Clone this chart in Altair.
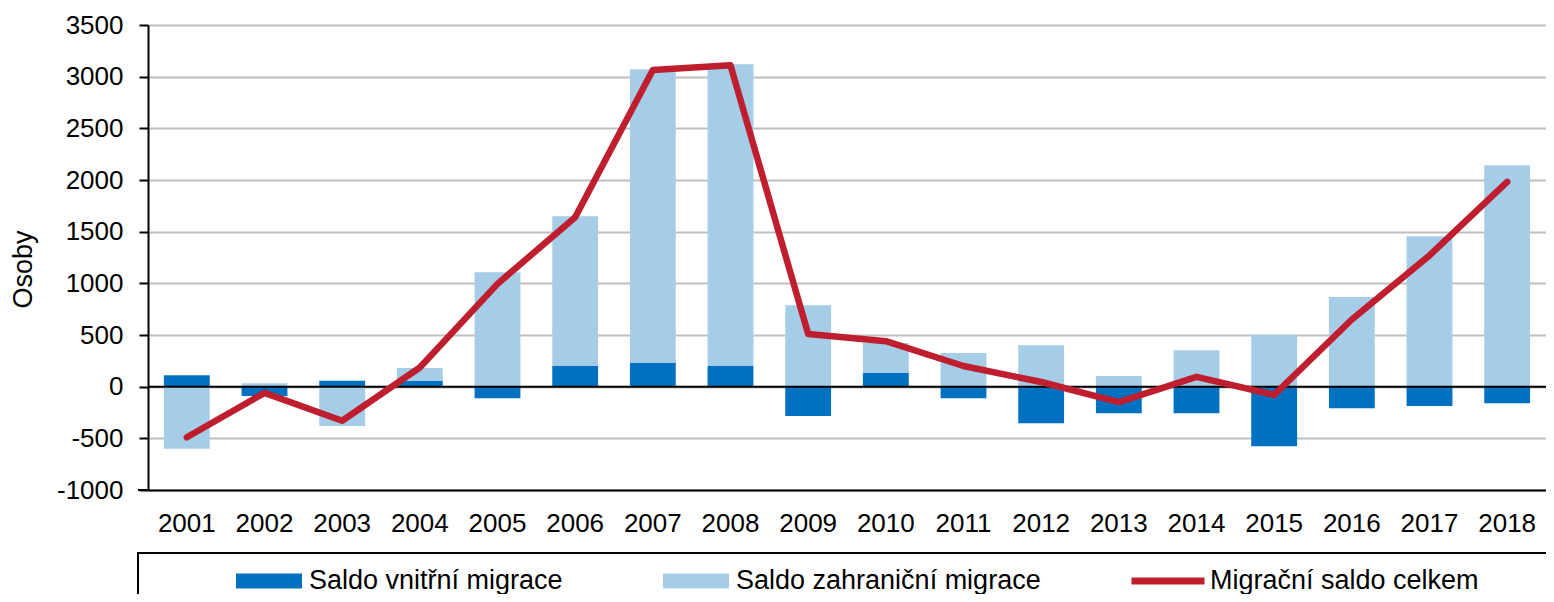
import altair as alt
import pandas as pd

years = ["2001", "2002", "2003", "2004", "2005", "2006", "2007", "2008", "2009",
         "2010", "2011", "2012", "2013", "2014", "2015", "2016", "2017", "2018"]
internal = [110, -90, 58, 55, -112, 200, 229, 200, -283, 132, -112, -355, -257, -257, -577, -209, -187, -161]
foreign = [-600, 33, -380, 126, 1107, 1449, 2843, 2920, 787, 290, 325, 400, 103, 352, 500, 867, 1455, 2143]
total = [-490, -60, -330, 185, 995, 1640, 3065, 3110, 510, 440, 200, 45, -150, 95, -80, 650, 1270, 1982]
y_ticks = [-1000, -500, 0, 500, 1000, 1500, 2000, 2500, 3000, 3500]
bar_names = ["Saldo vnitřní migrace", "Saldo zahraniční migrace"]
bar_colors = ["#0070C0", "#A6CDE8"]
line_name = ["Migrační saldo celkem"]
line_color = ["#BE1E2D"]

rows = []
for i, yr in enumerate(years):
    rows.append({"year": yr, "series": bar_names[0], "value": internal[i], "ord": 0})
    rows.append({"year": yr, "series": bar_names[1], "value": foreign[i], "ord": 1})
bar_df = pd.DataFrame(rows)
line_df = pd.DataFrame({"year": years, "total": total, "series": line_name[0]})

FONT = "Liberation Sans"
W, H = 1398, 465

x_axis = alt.Axis(title=None, labelAngle=0, ticks=False, labelPadding=20,
                  labelFontSize=26, labelColor="black", labelFont=FONT,
                  domainColor="black", domainWidth=2, grid=False)
x_scale = alt.Scale(paddingInner=0.41, paddingOuter=0.205)
y_scale = alt.Scale(domain=[-1000, 3500], nice=False, zero=False)
y_axis = alt.Axis(values=y_ticks, title="Osoby", titleFontSize=27, titleFont=FONT,
                  titleFontWeight="normal", titleColor="black", titleX=-111, titleY=244,
                  labelFontSize=26, labelFont=FONT, labelColor="black", labelPadding=16,
                  labelExpr="'' + datum.value",
                  tickSize=9, tickColor="black", tickWidth=2,
                  domainColor="black", domainWidth=2,
                  gridColor="#BFBFBF", gridWidth=2)

sym_rect = "M-1,-0.23H1V0.23H-1Z"

bar_legend = alt.Legend(
    title=None, orient="none", legendX=88, legendY=523, direction="horizontal",
    columns=2, labelFontSize=27, labelFont=FONT, labelColor="black", labelLimit=600,
    labelOffset=7, columnPadding=100, symbolSize=4356, symbolType=sym_rect,
    symbolStrokeWidth=0, padding=0,
)
line_legend = alt.Legend(
    title=None, orient="none", legendX=980, legendY=516, direction="horizontal",
    labelFontSize=27, labelFont=FONT, labelColor="black", labelLimit=600,
    labelOffset=2, symbolSize=5329, symbolType="stroke", symbolStrokeWidth=7, padding=0,
)

bars = alt.Chart(bar_df).mark_bar().encode(
    x=alt.X("year:N", sort=years, scale=x_scale, axis=x_axis),
    y=alt.Y("value:Q", stack="zero", scale=y_scale, axis=y_axis),
    fill=alt.Fill("series:N", scale=alt.Scale(domain=bar_names, range=bar_colors), legend=bar_legend),
    order=alt.Order("ord:Q"),
)

zero = alt.Chart(alt.Data(values=[{"v": 0}])).mark_rule(color="black", strokeWidth=2).encode(
    y=alt.Y("v:Q", scale=y_scale, axis=y_axis)
)

base_ext = alt.Chart(alt.Data(values=[{"v": -1000}])).mark_rule(color="black", strokeWidth=2).encode(
    y=alt.Y("v:Q", scale=y_scale, axis=y_axis), x=alt.value(-10), x2=alt.value(2)
)

line = alt.Chart(line_df).mark_line(strokeWidth=6.5, strokeCap="round", strokeJoin="round").encode(
    x=alt.X("year:N", sort=years, scale=x_scale, axis=x_axis),
    y=alt.Y("total:Q", scale=y_scale, axis=y_axis),
    stroke=alt.Stroke("series:N", scale=alt.Scale(domain=line_name, range=line_color), legend=line_legend),
)

frame = alt.Chart(alt.Data(values=[{"f": 1}])).mark_rect(
    fillOpacity=0, stroke="black", strokeWidth=2
).encode(x=alt.value(-10), x2=alt.value(1700), y=alt.value(528), y2=alt.value(700))

chart = alt.layer(bars, zero, base_ext, line, frame).properties(
    width=W, height=H,
    autosize=alt.AutoSizeParams(type="none"),
    padding={"left": 140, "top": 17, "right": 0, "bottom": 104},
).configure(font=FONT).configure_view(strokeWidth=0)

chart.save("out.html", embed_options={"renderer": "svg", "actions": False})
